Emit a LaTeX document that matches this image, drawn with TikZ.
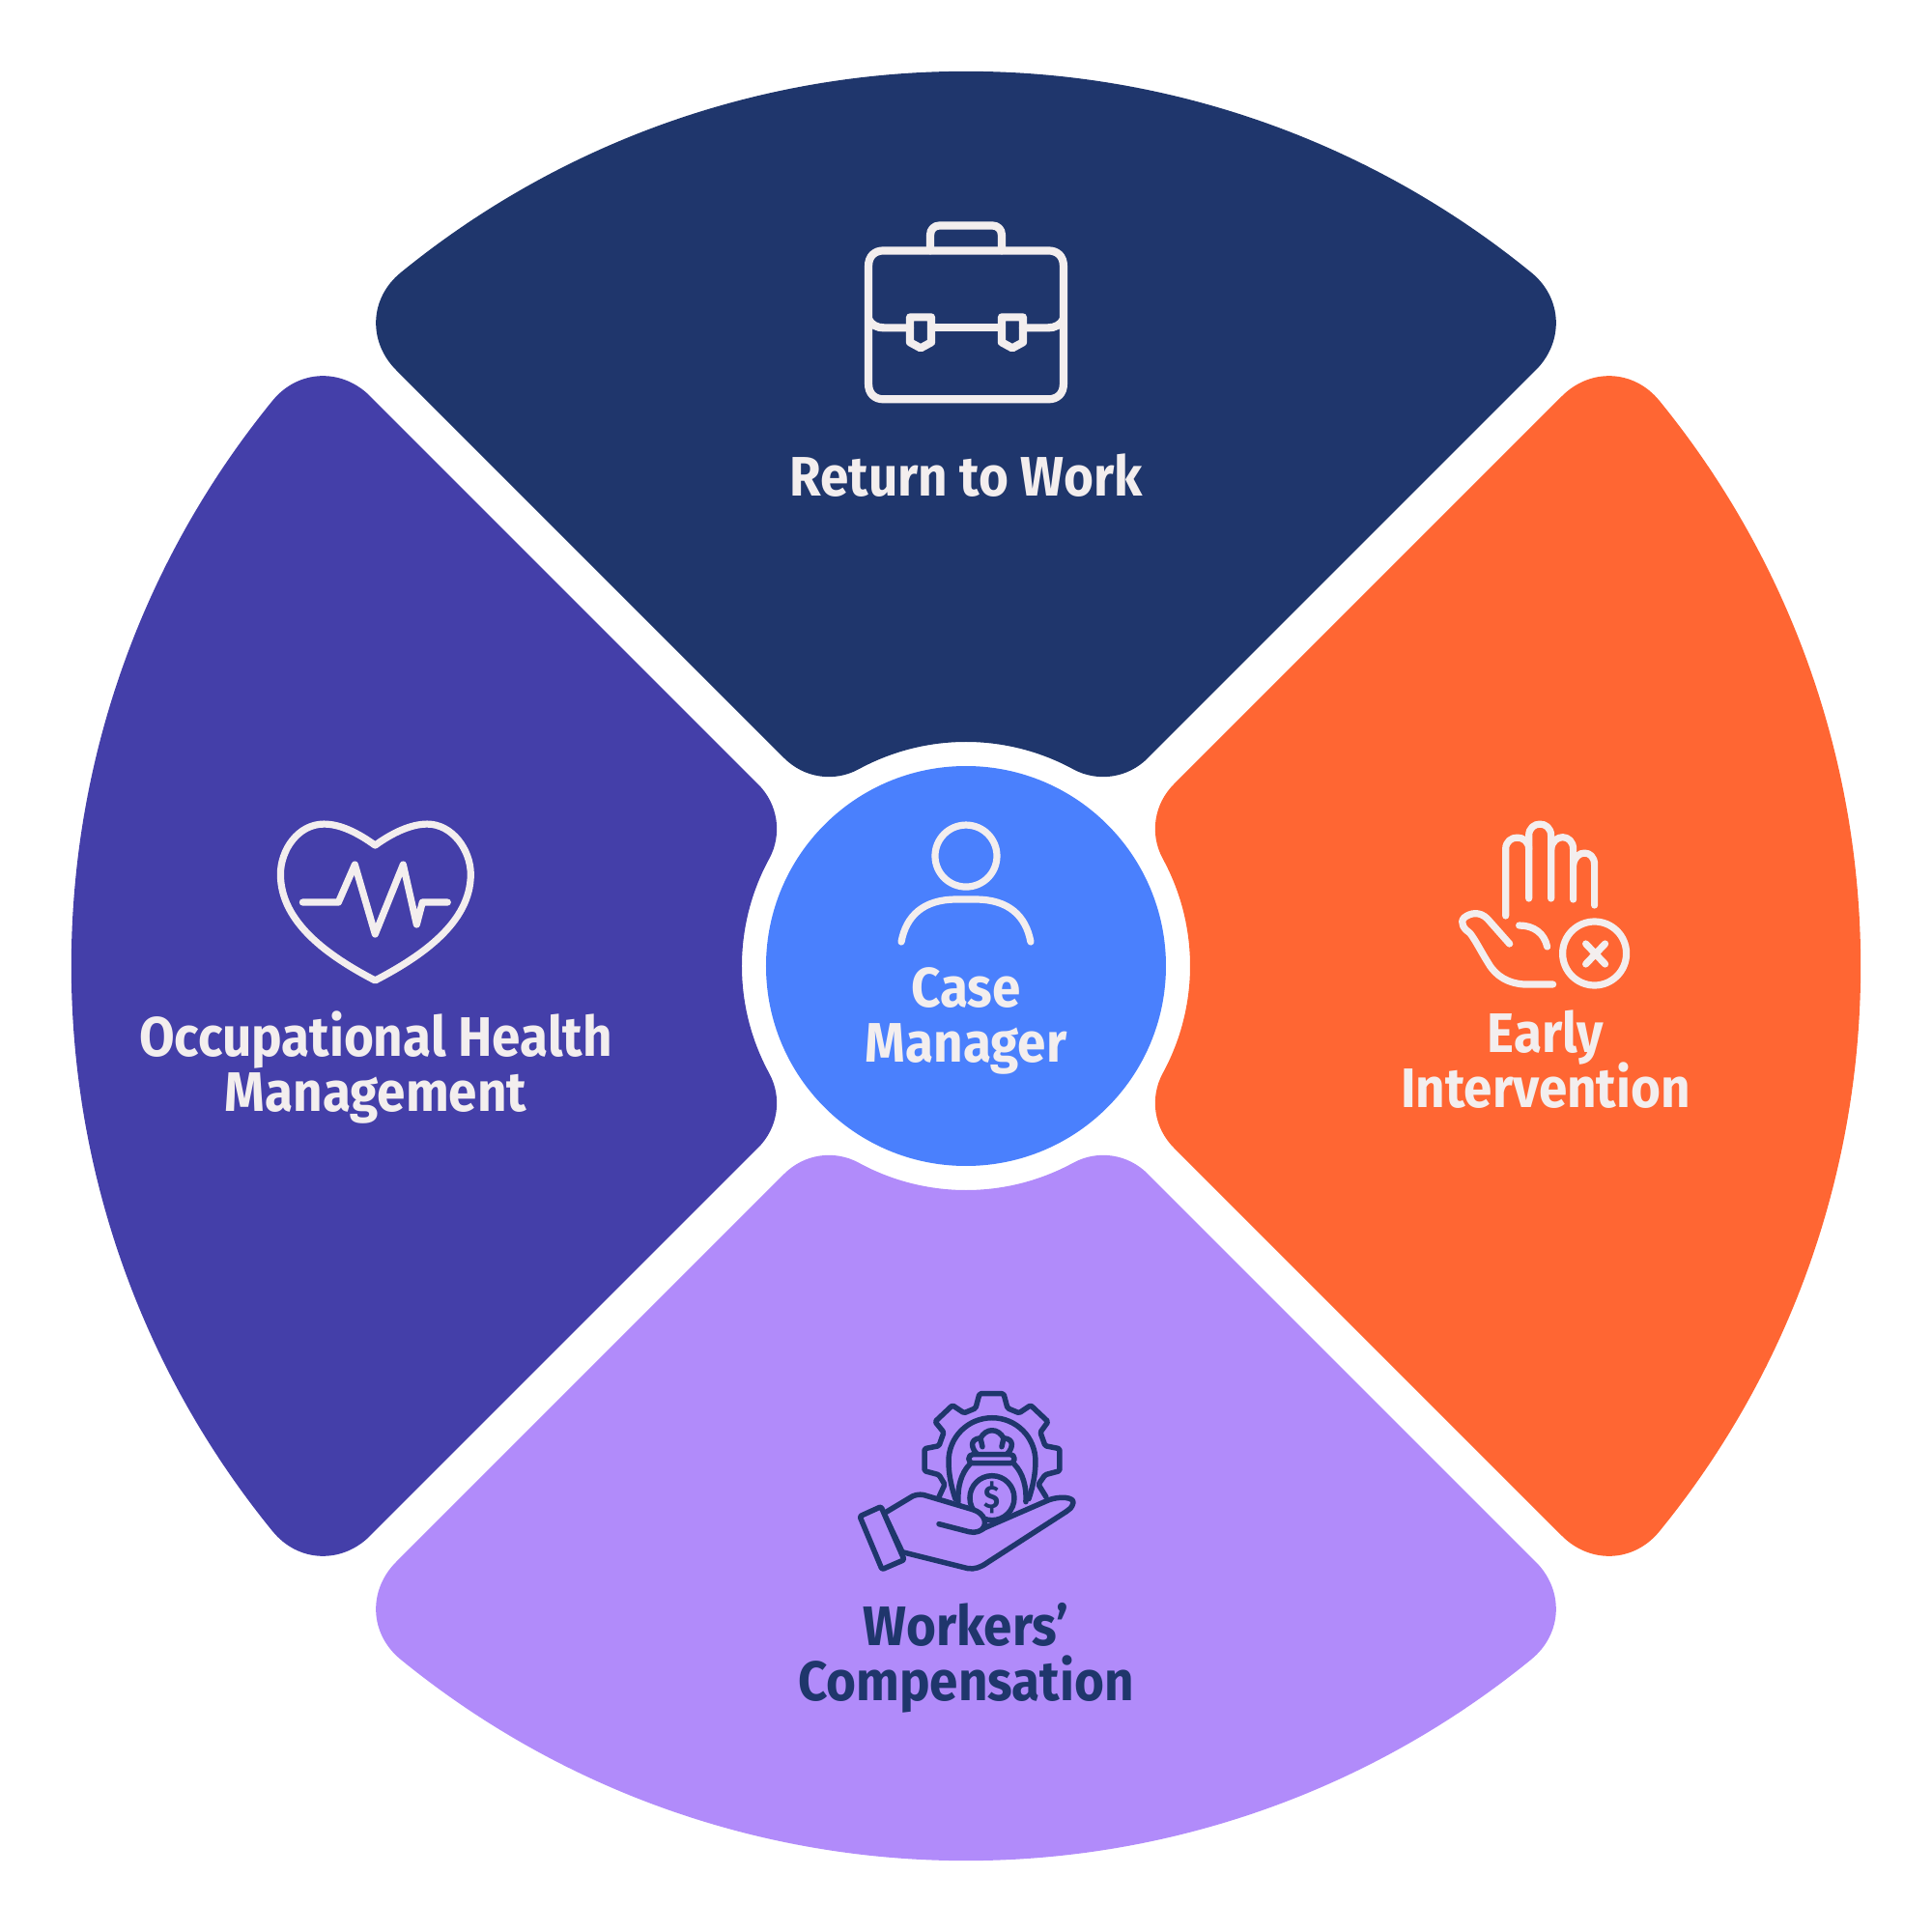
\documentclass[tikz,border=0pt]{standalone}
\usepackage{fontspec}
\setmainfont[FakeStretch=0.92]{Fira Sans}
\usepackage{tikz}
\usetikzlibrary{positioning}

\lineskiplimit=-20pt
\normallineskiplimit=-20pt

\definecolor{navy}{HTML}{1F366C}
\definecolor{indigo}{HTML}{443FA9}
\definecolor{tangerine}{HTML}{FF6633}
\definecolor{lavender}{HTML}{B18BFA}
\definecolor{azure}{HTML}{4A80FD}
\definecolor{cream}{HTML}{F3EEEE}

\tikzset{
  px/.style={x=.01cm,y=-.01cm,shift={(-1000,-1000)}},
  icon/.style={draw=cream,line width=.072cm,line cap=round,line join=round},
  caseicon/.style={icon,line width=.082cm},
  darkicon/.style={draw=navy,line width=.055cm,line cap=round,line join=round},
  lbl/.style={align=center,inner sep=0pt,text=cream,font=\fontsize{16.4}{16.2}\selectfont\bfseries}
}

% one sector, drawn as the top one
\newcommand{\sectorpath}{
  (-1.111,2.037) arc[start angle=118.6,end angle=61.4,radius=2.32cm]
  .. controls (1.364,1.899) and (1.676,1.946) .. (1.88,2.15)
  -- (5.90,6.17)
  .. controls (6.19,6.46) and (6.18,6.91) .. (5.853,7.178)
  arc[start angle=50.8,end angle=129.2,radius=9.26cm]
  .. controls (-6.18,6.91) and (-6.19,6.46) .. (-5.90,6.17)
  -- (-1.88,2.15)
  .. controls (-1.676,1.946) and (-1.364,1.899) .. cycle
}

\begin{document}
\begin{tikzpicture}
  \useasboundingbox (-10,-10) rectangle (10,10);

  \foreach \ang/\col in {0/navy,90/indigo,180/lavender,270/tangerine}
    \fill[\col,rotate=\ang] \sectorpath;
  \node[circle,fill=azure,minimum size=4.14cm,inner sep=0pt] (hub) at (0,0) {};

  % labels
  \node[lbl] (work)  at (0,5.08)      {Return to Work};
  \node[lbl] (case)  at (0,-.565)     {Case\\Manager};
  \node[lbl] (health) at (-6.11,-1.05) {Occupational Health\\Management};
  \node[lbl] (early) at (6,-.97)      {Early\\Intervention};
  \node[lbl,text=navy] (comp) at (0,-7.165) {Workers'\\Compensation};

  \begin{scope}[px]
    % briefcase
    \draw[caseicon] (915,259) -- (1085,259) .. controls (1095,259) and (1101,265) .. (1101,275)
      -- (1101,397) .. controls (1101,407) and (1095,413) .. (1085,413)
      -- (915,413) .. controls (905,413) and (899,407) .. (899,397)
      -- (899,275) .. controls (899,265) and (905,259) .. (915,259);
    \draw[caseicon] (963,259) -- (963,243) .. controls (963,237) and (967,233) .. (973,233)
      -- (1027,233) .. controls (1033,233) and (1037,237) .. (1037,243) -- (1037,259);
    \draw[caseicon] (899,330) .. controls (902,336) and (908,339) .. (915,339) -- (942,339);
    \draw[caseicon] (964,339) -- (1037,339);
    \draw[caseicon] (1059,339) -- (1085,339) .. controls (1092,339) and (1098,336) .. (1101,330);
    \draw[caseicon] (942,328) -- (964,328) -- (964,354) -- (953,360) -- (942,354) -- cycle;
    \draw[caseicon] (1037,328) -- (1059,328) -- (1059,354) -- (1048,360) -- (1037,354) -- cycle;

    % person
    \draw[icon] (1000,886) circle[radius=.32cm];
    \draw[icon] (933,975) .. controls (938,948) and (956,931) .. (990,931) -- (1010,931)
      .. controls (1044,931) and (1062,948) .. (1067,975);

    % heart with pulse
    \draw[icon] (388,875) .. controls (370,862) and (352,853) .. (335,853)
      .. controls (308,853) and (290,880) .. (290,905)
      .. controls (290,955) and (340,990) .. (388,1015)
      .. controls (436,990) and (487,955) .. (487,905)
      .. controls (487,880) and (468,853) .. (442,853)
      .. controls (425,853) and (406,862) .. (388,875) -- cycle;
    \draw[icon] (313,934) -- (350,934) -- (367,895) -- (388,967) -- (417,895) -- (431,957)
      -- (437,934) -- (463,934);

    % raised hand
    \draw[icon] (1559,948) -- (1559,879) .. controls (1559,863) and (1583,863) .. (1583,879) -- (1583,930);
    \draw[icon] (1583,879) -- (1583,865) .. controls (1583,849) and (1606,849) .. (1606,865) -- (1606,930);
    \draw[icon] (1606,879) .. controls (1608,862) and (1629,863) .. (1629,879) -- (1629,931);
    \draw[icon] (1629,895) .. controls (1631,879) and (1651,879) .. (1651,895) -- (1651,937);
    \draw[icon] (1563,977) -- (1540,951) .. controls (1532,943) and (1522,945) .. (1516,950)
      .. controls (1511,955) and (1516,962) .. (1522,966)
      .. controls (1527,972) and (1534,986) .. (1541,997)
      .. controls (1549,1011) and (1562,1018) .. (1578,1019) -- (1608,1019);
    \draw[icon] (1573,958) .. controls (1588,958) and (1599,966) .. (1602,980);
    \draw[icon] (1651,987) circle[radius=.33cm];
    \draw[icon] (1642,977) -- (1662,998) (1662,977) -- (1642,998);

    % money bag in a gear, on a hand
    \draw[darkicon,rounded corners=.015cm] (972,1550) -- (978,1537) -- (972,1527) -- (957,1523)
      -- (957,1500) -- (972,1497) -- (977,1483) -- (968,1472) -- (986,1455) -- (998,1463)
      -- (1010,1458) -- (1014,1443) -- (1039,1443) -- (1043,1458) -- (1055,1463) -- (1067,1455)
      -- (1085,1472) -- (1077,1483) -- (1082,1497) -- (1097,1500) -- (1097,1523) -- (1082,1527)
      -- (1075,1537) -- (1083,1550);
    \draw[darkicon] (989,1552) .. controls (985,1540) and (982,1527) .. (982,1513)
      .. controls (982,1488) and (1002,1468) .. (1027,1468)
      .. controls (1052,1468) and (1072,1488) .. (1072,1513)
      .. controls (1072,1527) and (1069,1540) .. (1065,1552);
    \draw[darkicon,rounded corners=.04cm] (1003,1506) rectangle (1050,1515);
    \draw[darkicon] (1011,1505) .. controls (1006,1500) and (1003,1490) .. (1015,1489)
      .. controls (1018,1484) and (1022,1481) .. (1027,1481)
      .. controls (1032,1481) and (1036,1484) .. (1039,1489)
      .. controls (1051,1490) and (1048,1500) .. (1043,1505);
    \draw[darkicon] (1015,1489) -- (1017,1498) (1039,1489) -- (1037,1498);
    \draw[darkicon] (1004,1516) .. controls (995,1525) and (991,1540) .. (992,1555);
    \draw[darkicon] (1050,1516) .. controls (1059,1525) and (1063,1540) .. (1062,1555);
    \draw[darkicon] (1027,1551) circle[radius=.23cm];
    \node[inner sep=0pt,text=navy,font=\fontsize{9.5}{9.5}\selectfont\bfseries] (dollar) at (1027,1551) {\$};
    \filldraw[darkicon,fill=lavender] (915,1567) -- (945,1549) .. controls (950,1547) and (955,1547) .. (960,1549)
      -- (1007,1563) .. controls (1020,1567) and (1022,1578) .. (1017,1583)
      -- (1086,1553) .. controls (1097,1549) and (1112,1550) .. (1111,1556)
      .. controls (1110,1561) and (1107,1563) .. (1104,1565)
      -- (1022,1618) .. controls (1015,1623) and (1009,1625) .. (1002,1624)
      -- (934,1607) -- cycle;
    \draw[darkicon] (972,1578) -- (1003,1586) .. controls (1010,1588) and (1016,1585) .. (1020,1581);
    \filldraw[darkicon,fill=lavender,rounded corners=.02cm] (890,1570) -- (912,1560) -- (936,1615) -- (913,1625) -- cycle;
  \end{scope}
\end{tikzpicture}
\end{document}
